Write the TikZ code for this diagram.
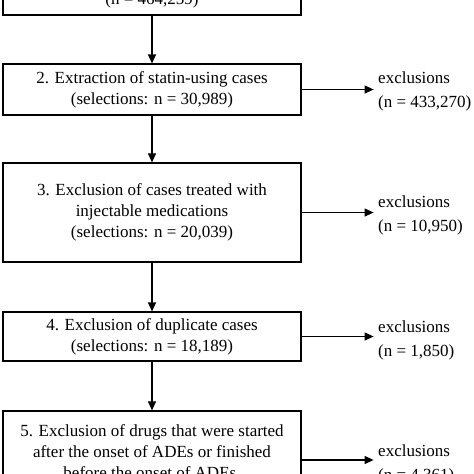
\documentclass[tikz,border=0pt]{standalone}
\usepackage{fontspec}
\setmainfont{Liberation Serif}
\usetikzlibrary{arrows.meta}
\tikzset{
  stepbox/.style={draw, line width=1.2pt, minimum width=298pt, inner sep=0pt, align=center,
    font=\fontsize{17}{21}\selectfont},
  exclnote/.style={anchor=west, align=left, inner sep=0pt, font=\fontsize{17}{24}\selectfont},
  flow/.style={line width=1.2pt, -{Triangle[length=9pt,width=8pt]}}
}
\begin{document}
\begin{tikzpicture}[x=1pt,y=1pt]
  \useasboundingbox (0,0) rectangle (474,-474);
  % selection steps
  \node[stepbox, minimum height=30pt] (box1) at (152,-0) {(n = 464,259)};
  \node[stepbox, minimum height=51pt] (box2) at (152,-89.5) {2. Extraction of statin-using cases\\(selections: n = 30,989)};
  \node[stepbox, minimum height=99pt] (box3) at (152,-212.5) {3. Exclusion of cases treated with\\injectable medications\\(selections: n = 20,039)};
  \node[stepbox, minimum height=49pt] (box4) at (152,-336.5) {4. Exclusion of duplicate cases\\(selections: n = 18,189)};
  \node[stepbox, minimum height=82pt] (box5) at (152,-452) {5. Exclusion of drugs that were started\\after the onset of ADEs or finished\\before the onset of ADEs.};

  % exclusions
  \node[exclnote] (excl2) at (378,-91) {exclusions\\(n = 433,270)};
  \node[exclnote] (excl3) at (378,-215.5) {exclusions\\(n = 10,950)};
  \node[exclnote] (excl4) at (378,-340) {exclusions\\(n = 1,850)};
  \node[exclnote] (excl5) at (378,-464) {exclusions\\(n = 4,361)};

  \draw[flow] (box1.south) -- (box2.north);
  \draw[flow] (box2.south) -- (box3.north);
  \draw[flow] (box3.south) -- (box4.north);
  \draw[flow] (box4.south) -- (box5.north);

  \draw[flow] (box2.east) -- ++(72,0);
  \draw[flow] (box3.east) -- ++(72,0);
  \draw[flow] (box4.east) -- ++(72,0);
  \draw[flow] ([yshift=-8pt]box5.east) -- ++(72,0);
\end{tikzpicture}
\end{document}
